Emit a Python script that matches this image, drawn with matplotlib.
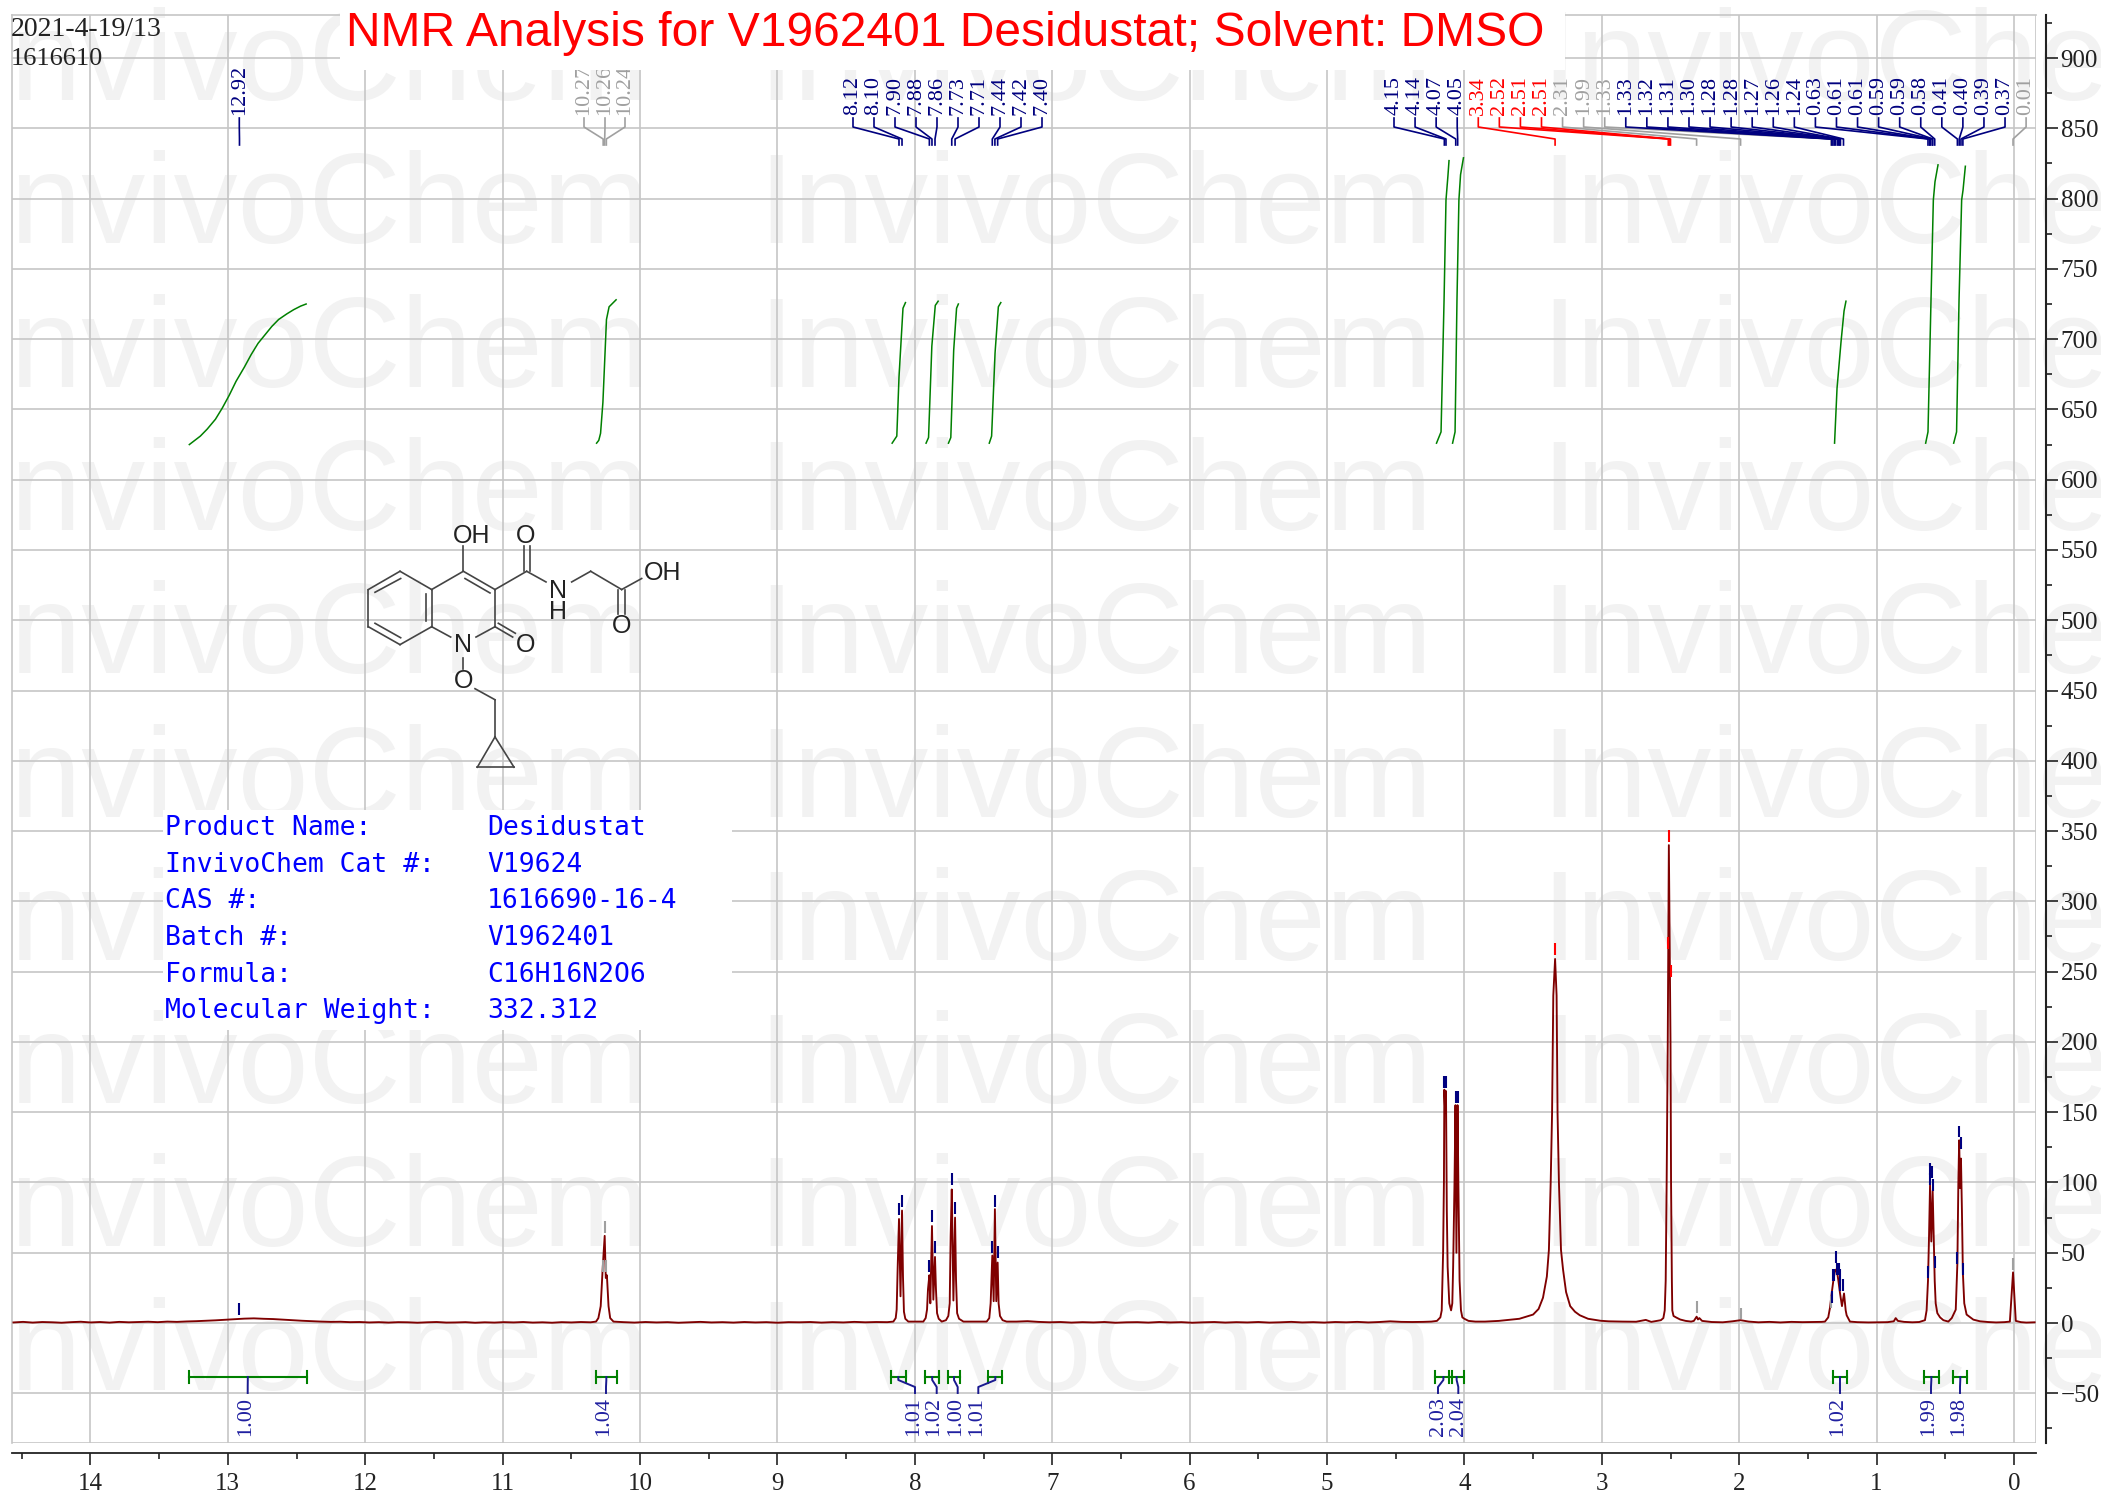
# NMR spectrum of Desidustat

import matplotlib
matplotlib.use("Agg")
import matplotlib.pyplot as plt
import numpy as np
from matplotlib.patches import Rectangle
from matplotlib.ticker import MultipleLocator

plt.rcParams['font.family'] = ['Liberation Serif', 'DejaVu Serif']

# spectrum, piece by piece from left to right (ppm, intensity)
base1_ppm = [14.56, 14.49, 14.42, 14.35, 14.28, 14.21, 14.14, 14.07, 14.00, 13.93,
             13.86, 13.79, 13.72, 13.65, 13.58, 13.51, 13.44, 13.37, 13.30, 13.23,
             13.16, 13.09, 13.02, 12.95, 12.88, 12.81, 12.74, 12.67, 12.60, 12.53,
             12.46, 12.39, 12.32, 12.25, 12.18, 12.11, 12.04, 11.97, 11.90, 11.83,
             11.76, 11.69, 11.62, 11.55, 11.48, 11.41, 11.34, 11.27, 11.20, 11.13,
             11.06, 10.99, 10.92, 10.85, 10.78, 10.71, 10.64, 10.57, 10.50, 10.43, 10.36]
base1_int = [0.4, 0.8, 0.3, 0.7, 0.5, 0.2, 0.6, 0.9, 0.4, 0.7,
             0.3, 0.8, 0.5, 0.7, 0.9, 0.6, 1.0, 0.8, 1.1, 1.3,
             1.6, 1.9, 2.3, 2.7, 3.1, 3.3, 3.0, 2.8, 2.4, 2.0,
             1.6, 1.3, 1.0, 0.8, 0.9, 0.6, 0.7, 0.4, 0.6, 0.3,
             0.6, 0.5, 0.2, 0.5, 0.7, 0.3, 0.4, 0.6, 0.2, 0.5,
             0.3, 0.6, 0.4, 0.7, 0.3, 0.5, 0.2, 0.6, 0.4, 0.7, 0.5]

nh_ppm = [10.32, 10.303, 10.286, 10.271, 10.257, 10.249, 10.241, 10.229, 10.217, 10.193]
nh_int = [1.0, 3.5, 12, 40, 62, 32, 34, 12, 3.5, 1.0]

base2_ppm = [10.12, 10.04, 9.96, 9.88, 9.80, 9.72, 9.64, 9.56, 9.48, 9.40, 9.32, 9.24, 9.16,
             9.08, 9.00, 8.92, 8.84, 8.76, 8.68, 8.60, 8.52, 8.44, 8.36, 8.28, 8.20]
base2_int = [0.6, 0.3, 0.7, 0.4, 0.6, 0.2, 0.5, 0.8, 0.4, 0.6, 0.3, 0.7, 0.4,
             0.6, 0.2, 0.6, 0.5, 0.7, 0.3, 0.6, 0.4, 0.8, 0.5, 0.7, 0.6]

ar1_ppm = [8.156, 8.139, 8.132, 8.125, 8.115, 8.104, 8.093, 8.086, 8.079, 8.069, 8.047]
ar1_int = [1, 3.5, 9.5, 38, 74, 19, 80, 33, 8, 3, 1]

ar2_ppm = [7.938, 7.921, 7.911, 7.904, 7.894, 7.887, 7.875, 7.865, 7.853, 7.846, 7.838, 7.826, 7.804]
ar2_int = [1, 3.5, 9.5, 24, 34, 14, 69, 16.6, 47, 24, 7, 3, 1]

ar3_ppm = [7.773, 7.756, 7.746, 7.739, 7.731, 7.719, 7.707, 7.700, 7.692, 7.678, 7.646]
ar3_int = [2, 5, 14, 62, 95, 16, 75, 31, 7, 3, 1]

ar4_ppm = [7.477, 7.458, 7.448, 7.436, 7.426, 7.417, 7.407, 7.397, 7.390, 7.380, 7.361, 7.332]
ar4_int = [1, 3.5, 14, 48, 15.5, 81, 15.5, 43, 14, 5, 2, 1]

base3_ppm = [7.26, 7.18, 7.10, 7.02, 6.94, 6.86, 6.78, 6.70, 6.62, 6.54, 6.46, 6.38, 6.30, 6.22,
             6.14, 6.06, 5.98, 5.90, 5.82, 5.74, 5.66, 5.58, 5.50, 5.42, 5.34, 5.26, 5.18, 5.10,
             5.02, 4.94, 4.86, 4.78, 4.70, 4.62, 4.54, 4.46, 4.38, 4.30]
base3_int = [1.0, 1.3, 0.8, 0.5, 0.7, 0.3, 0.6, 0.4, 0.7, 0.2, 0.5, 0.6, 0.3, 0.7,
             0.4, 0.6, 0.2, 0.5, 0.7, 0.3, 0.6, 0.4, 0.7, 0.3, 0.5, 0.8, 0.4, 0.6,
             0.3, 0.7, 0.5, 0.8, 0.4, 0.7, 1.2, 0.8, 0.7, 0.8]

ch2_ppm = [4.24, 4.20, 4.175, 4.165, 4.155, 4.149, 4.146, 4.14, 4.134, 4.128, 4.122, 4.11, 4.097, 4.088,
           4.082, 4.072, 4.065, 4.058, 4.05, 4.044, 4.035, 4.025, 4.015, 4.00, 3.97, 3.92]
ch2_int = [1.0, 1.5, 4, 9, 50, 100, 166, 150, 165, 80, 40, 14, 9, 14,
           40, 100, 155, 50, 155, 100, 30, 9, 4, 3, 1.5, 1.0]

water_ppm = [3.85, 3.75, 3.68, 3.60, 3.50, 3.46, 3.428, 3.40, 3.385, 3.372, 3.362, 3.353, 3.340,
             3.329, 3.322, 3.312, 3.297, 3.282, 3.26, 3.23, 3.195, 3.16, 3.10, 3.01, 2.95, 2.85,
             2.75, 2.68, 2.64, 2.60]
water_int = [1.0, 1.5, 2.2, 3, 6, 10, 18, 33, 52, 100, 149, 233, 259,
             233, 149, 100, 52, 38, 22, 12, 8, 5.5, 3, 1.6, 1.2, 1.0,
             0.9, 2.2, 0.8, 1.5]

dmso_ppm = [2.57, 2.552, 2.542, 2.535, 2.528, 2.52, 2.512, 2.50, 2.496, 2.49, 2.487, 2.478, 2.46, 2.43, 2.39, 2.35]
dmso_int = [2, 3.5, 9, 30, 100, 200, 340, 200, 100, 30, 9, 5, 4, 2.5, 1.5, 1.0]

small_ppm = [2.33, 2.32, 2.31, 2.30, 2.29, 2.27, 2.20, 2.12, 2.05, 1.99, 1.93, 1.86, 1.78, 1.70, 1.62, 1.54, 1.46, 1.40]
small_int = [1.5, 3, 4.5, 2.5, 3.5, 1.5, 0.7, 0.5, 1.2, 2.0, 1.0, 0.5, 0.8, 0.4, 0.8, 0.6, 0.7, 0.8]

cp_ppm = [1.376, 1.352, 1.339, 1.327, 1.315, 1.305, 1.296, 1.287, 1.278, 1.266, 1.252, 1.237, 1.225, 1.218, 1.194]
cp_int = [1, 4, 11, 21, 30, 36, 38, 36, 30, 21, 12, 21, 9, 5.5, 1]

base4_ppm = [1.14, 1.06, 0.98, 0.92, 0.875, 0.861, 0.845, 0.80, 0.74, 0.69]
base4_int = [0.6, 0.4, 0.5, 0.6, 1.2, 3.5, 1.5, 0.8, 0.5, 0.7]

cp2_ppm = [0.648, 0.636, 0.626, 0.619, 0.611, 0.602, 0.592, 0.585, 0.577, 0.570, 0.558, 0.538, 0.514, 0.478]
cp2_int = [2, 9, 30, 59, 98, 58, 94, 64, 30, 14, 7, 4, 2, 1]

cp3_ppm = [0.453, 0.424, 0.412, 0.405, 0.399, 0.393, 0.386, 0.379, 0.372, 0.362, 0.345, 0.296, 0.247]
cp3_int = [3.5, 9.5, 42.7, 99.6, 130, 96, 117, 80, 35.6, 14, 6, 2.4, 1.2]

tms_ppm = [0.19, 0.13, 0.07, 0.03, 0.007, -0.013, -0.05, -0.09, -0.15]
tms_int = [0.7, 0.4, 0.6, 1.0, 36, 1.5, 0.6, 0.3, 0.5]

# peak picks: label text, ppm, height of the pick mark, colour group
peak_labels = ['12.92', '10.27', '10.26', '10.24',
               '8.12', '8.10', '7.90', '7.88', '7.86', '7.73', '7.71', '7.44', '7.42', '7.40',
               '4.15', '4.14', '4.07', '4.05', '3.34', '2.52', '2.51', '2.51', '2.31', '1.99',
               '1.33', '1.33', '1.32', '1.31', '1.30', '1.28', '1.28', '1.27', '1.26', '1.24',
               '0.63', '0.61', '0.61', '0.59', '0.59', '0.58', '0.41', '0.40', '0.39', '0.37', '0.01']
peak_ppm = [12.915, 10.268, 10.257, 10.245,
            8.115, 8.093, 7.894, 7.875, 7.853, 7.731, 7.707, 7.436, 7.417, 7.397,
            4.146, 4.134, 4.063, 4.049, 3.340, 2.516, 2.508, 2.500, 2.310, 1.990,
            1.332, 1.327, 1.318, 1.308, 1.299, 1.285, 1.277, 1.268, 1.263, 1.241,
            0.626, 0.614, 0.610, 0.596, 0.591, 0.577, 0.412, 0.399, 0.386, 0.372, 0.007]
peak_mark = [5.5, 36, 64, 36,
             77, 82.5, 36.5, 71.6, 49.8, 98, 77.8, 50, 82.5, 46,
             167, 167, 156.5, 156.5, 262, 266, 342, 246, 7, 2.5,
             11, 14, 30, 30, 43, 34, 34, 30, 23, 23,
             32, 98, 105, 103, 94, 39, 42, 132, 124, 34, 38]
peak_group = ['n', 'g', 'g', 'g',
              'n', 'n', 'n', 'n', 'n', 'n', 'n', 'n', 'n', 'n',
              'n', 'n', 'n', 'n', 'r', 'r', 'r', 'r', 'g', 'g',
              'g', 'n', 'n', 'n', 'n', 'n', 'n', 'n', 'n', 'n',
              'n', 'n', 'n', 'n', 'n', 'n', 'n', 'n', 'n', 'n', 'g']

# integrals
int_values = ['1.00', '1.04', '1.01', '1.02', '1.00', '1.01', '2.03', '2.04', '1.02', '1.99', '1.98']
int_left = [13.283, 10.32, 8.176, 7.926, 7.758, 7.465, 4.214, 4.11, 1.315, 0.655, 0.442]
int_right = [12.426, 10.17, 8.064, 7.821, 7.671, 7.363, 4.092, 4.003, 1.218, 0.548, 0.34]

curve1_ppm = [13.28, 13.20, 13.15, 13.09, 13.04, 12.99, 12.94, 12.88, 12.83, 12.78, 12.73, 12.68, 12.63, 12.57,
              12.52, 12.47, 12.43]
curve1_h = [625, 631, 636, 643, 651, 660, 670, 680, 689, 697, 703, 709, 714, 718, 721, 723.5, 725]
curve2_ppm = [10.316, 10.30, 10.287, 10.27, 10.244, 10.225, 10.174]
curve2_h = [626, 628, 633, 655, 714, 723, 728]
curve3_ppm = [8.165, 8.131, 8.115, 8.086, 8.068]
curve3_h = [626, 631, 673, 722, 726]
curve4_ppm = [7.918, 7.90, 7.876, 7.851, 7.83]
curve4_h = [626, 630, 695, 724, 727]
curve5_ppm = [7.755, 7.738, 7.717, 7.696, 7.683]
curve5_h = [626, 630, 692, 722, 725]
curve6_ppm = [7.458, 7.441, 7.416, 7.392, 7.374]
curve6_h = [626, 631, 690, 723, 726]
curve7_ppm = [4.203, 4.17, 4.148, 4.134, 4.12, 4.112]
curve7_h = [626, 634, 728, 799, 816, 827]
curve8_ppm = [4.086, 4.068, 4.054, 4.04, 4.028, 4.007]
curve8_h = [626, 634, 728, 799, 817, 829]
curve9_ppm = [1.306, 1.288, 1.259, 1.237, 1.223]
curve9_h = [626, 665, 698, 720, 727]
curve10_ppm = [0.643, 0.626, 0.604, 0.587, 0.575, 0.553]
curve10_h = [626, 634, 728, 799, 812, 824]
curve11_ppm = [0.439, 0.418, 0.40, 0.381, 0.371, 0.354]
curve11_h = [626, 634, 728, 799, 806, 823]

info_names = ['Product Name:', 'InvivoChem Cat #:', 'CAS #:', 'Batch #:', 'Formula:', 'Molecular Weight:']
info_values = ['Desidustat', 'V19624', '1616690-16-4', 'V1962401', 'C16H16N2O6', '332.312']


# pixel position on the page -> data value of the main axes
def x_at(px):
    return (2014 - px) / 137.4


def y_at(py):
    return (1323 - py) / 1.4055


fig = plt.figure(figsize=(21.01, 14.97), dpi=100)

# watermark goes on its own axes behind everything
bg = fig.add_axes([0, 0, 1, 1], zorder=0)
bg.set_xlim(0, 2101)
bg.set_ylim(1497, 0)
bg.axis('off')
for col in [-25, 758, 1541]:
    for row in range(10):
        bg.text(col, 100 + 143.3 * row, 'InvivoChem', family='Liberation Sans', fontsize=92,
                color='#f2f2f2', ha='left', va='baseline')

ax = fig.add_axes([12 / 2101, 54 / 1497, 2024 / 2101, 1428 / 1497], zorder=1)
ax.patch.set_visible(False)
ax.set_xlim(x_at(12), x_at(2036))
ax.set_ylim(y_at(1443), y_at(15))

ax.xaxis.set_major_locator(MultipleLocator(1))
ax.xaxis.set_minor_locator(MultipleLocator(0.5))
ax.yaxis.set_major_locator(MultipleLocator(50))
ax.yaxis.set_minor_locator(MultipleLocator(25))
ax.yaxis.tick_right()
ax.grid(True, which='major', color='#c6c6c6', linewidth=1.2)
ax.set_axisbelow(True)
ax.tick_params(which='major', length=8.5, width=1.2, labelsize=18, color='#222222', labelcolor='#222222')
ax.tick_params(which='minor', length=4.5, width=1.2, color='#222222')
ax.tick_params(axis='x', which='major', pad=6)
ax.tick_params(axis='y', which='major', pad=2)

# black axes sit a bit away from the grey frame
ax.spines['bottom'].set_position(('outward', 7.2))
ax.spines['right'].set_position(('outward', 7.2))
ax.spines['bottom'].set_linewidth(1.3)
ax.spines['right'].set_linewidth(1.5)
ax.spines['bottom'].set_color('#222222')
ax.spines['right'].set_color('#222222')
ax.spines['top'].set_color('#c6c6c6')
ax.spines['left'].set_color('#c6c6c6')
ax.spines['top'].set_linewidth(1.2)
ax.spines['left'].set_linewidth(1.2)
ax.axhline(ax.get_ylim()[0], color='#c6c6c6', linewidth=1.2)
ax.axvline(ax.get_xlim()[1], color='#c6c6c6', linewidth=1.2)

spec_ppm = np.concatenate([base1_ppm, nh_ppm, base2_ppm, ar1_ppm, ar2_ppm, ar3_ppm, ar4_ppm, base3_ppm, ch2_ppm,
                           water_ppm, dmso_ppm, small_ppm, cp_ppm, base4_ppm, cp2_ppm, cp3_ppm, tms_ppm])
spec_int = np.concatenate([base1_int, nh_int, base2_int, ar1_int, ar2_int, ar3_int, ar4_int, base3_int, ch2_int,
                           water_int, dmso_int, small_int, cp_int, base4_int, cp2_int, cp3_int, tms_int])
ax.plot(spec_ppm, spec_int, color='#7f0000', linewidth=1.35, zorder=5)

# pick marks and leader lines
colors = {'n': '#00007f', 'g': '#a0a0a0', 'r': '#ff0000'}
label_px = [239.3, 584, 605, 625] + [853 + 21 * i for i in range(10)] + [1394 + 21.07 * i for i in range(31)]
for i in range(len(peak_labels)):
    c = colors[peak_group[i]]
    ax.vlines(peak_ppm[i], peak_mark[i], peak_mark[i] + 8.5, color=c, linewidth=1.5, zorder=6)
    xs = [x_at(label_px[i]), x_at(label_px[i]), peak_ppm[i], peak_ppm[i]]
    ys = [y_at(118), y_at(127), y_at(139), y_at(145)]
    ax.plot(xs, ys, color=c, linewidth=1.2, zorder=4)
    ax.text(x_at(label_px[i]), y_at(115), peak_labels[i], rotation=90, color=c, fontsize=16,
            ha='center', va='bottom', zorder=4)

# integral curves
curves = [(curve1_ppm, curve1_h), (curve2_ppm, curve2_h), (curve3_ppm, curve3_h), (curve4_ppm, curve4_h),
          (curve5_ppm, curve5_h), (curve6_ppm, curve6_h), (curve7_ppm, curve7_h), (curve8_ppm, curve8_h),
          (curve9_ppm, curve9_h), (curve10_ppm, curve10_h), (curve11_ppm, curve11_h)]
for cx, cy in curves:
    ax.plot(cx, cy, color='#008000', linewidth=1.1, zorder=4)

# integral brackets below the baseline
bar_y = y_at(1377)
stem_px = [247.7, 606, 915, 936.7, 957.7, 978.3, 1438, 1458.3, 1840, 1931, 1960]
text_px = [246, 604, 913.3, 934, 955.3, 976.7, 1438, 1458.3, 1837.3, 1929, 1958.3]
for i in range(len(int_values)):
    mid = (int_left[i] + int_right[i]) / 2
    ax.plot([int_left[i], int_right[i]], [bar_y, bar_y], color='#008000', linewidth=1.5, zorder=4)
    for end in [int_left[i], int_right[i]]:
        ax.plot([end, end], [bar_y - 4, bar_y + 4], color='#008000', linewidth=1.5, zorder=4)
    ax.plot([mid, mid, x_at(stem_px[i]), x_at(stem_px[i])], [bar_y, y_at(1380), y_at(1387), y_at(1393)],
            color='#1a1a90', linewidth=1.4, zorder=4)
    ax.text(x_at(text_px[i]), y_at(1436), int_values[i], rotation=90, color='#2020a0', fontsize=16,
            ha='center', va='bottom', zorder=4)

# white boxes, title, molecule and text go above the plot
ov = fig.add_axes([0, 0, 1, 1], zorder=3)
ov.set_xlim(0, 2101)
ov.set_ylim(1497, 0)
ov.axis('off')
ov.add_patch(Rectangle((340, 0), 1225, 70, facecolor='white', edgecolor='none'))
ov.add_patch(Rectangle((163, 810), 569, 220, facecolor='white', edgecolor='none'))

ov.text(945, 33, 'NMR Analysis for V1962401 Desidustat; Solvent: DMSO', family='Liberation Sans',
        fontsize=34.6, color='#ff0000', ha='center', va='center')
ov.text(11, 30, '2021-4-19/13', fontsize=20, color='#222222', ha='left', va='center')
ov.text(11, 59, '1616610', fontsize=19, color='#222222', ha='left', va='center')

line_y = [828, 865, 901, 938, 975, 1011]
for i in range(6):
    ov.text(165, line_y[i], info_names[i], family='DejaVu Sans Mono', fontsize=19, color='#0000ff',
            ha='left', va='center')
    ov.text(487, line_y[i], info_values[i], family='DejaVu Sans Mono', fontsize=19, color='#0000ff',
            ha='left', va='center')

# molecule, positions taken from a crop starting at (330, 500)
bonds = [[(210, 207), (115, 260)], [(115, 260), (115, 368)], [(115, 368), (210, 420)], [(210, 420), (305, 368)],
         [(305, 368), (305, 260)], [(305, 260), (210, 207)], [(135, 268), (212, 228)], [(135, 358), (212, 400)],
         [(288, 272), (288, 352)], [(305, 260), (400, 207)], [(400, 207), (400, 135)], [(400, 207), (495, 260)],
         [(405, 228), (480, 270)], [(495, 260), (495, 368)], [(305, 368), (362, 398)], [(495, 368), (438, 398)],
         [(495, 368), (548, 398)], [(505, 358), (556, 387)], [(400, 460), (400, 492)], [(435, 548), (495, 580)],
         [(495, 580), (495, 688)], [(495, 688), (442, 776)], [(442, 776), (552, 776)], [(552, 776), (495, 688)],
         [(495, 260), (590, 207)], [(582, 207), (582, 135)], [(600, 207), (600, 135)], [(590, 207), (648, 238)],
         [(725, 238), (782, 207)], [(782, 207), (875, 260)], [(875, 260), (935, 228)], [(865, 260), (865, 332)],
         [(885, 260), (885, 332)]]
atoms = [('OH', 425, 104), ('O', 588, 104), ('OH', 997, 211), ('N', 685, 264), ('H', 685, 324), ('O', 875, 367),
         ('N', 400, 422), ('O', 588, 422), ('O', 400, 527)]
for (x1, y1), (x2, y2) in bonds:
    ov.plot([330 + x1 / 3, 330 + x2 / 3], [500 + y1 / 2.904, 500 + y2 / 2.904], color='#444444', linewidth=1.2)
for s, x, y in atoms:
    ov.text(330 + x / 3, 500 + y / 2.904, s, family='Liberation Sans', fontsize=18, color='#222222',
            ha='center', va='center')
ov.set_xlim(0, 2101)
ov.set_ylim(1497, 0)

plt.savefig('out.png', dpi=100)
